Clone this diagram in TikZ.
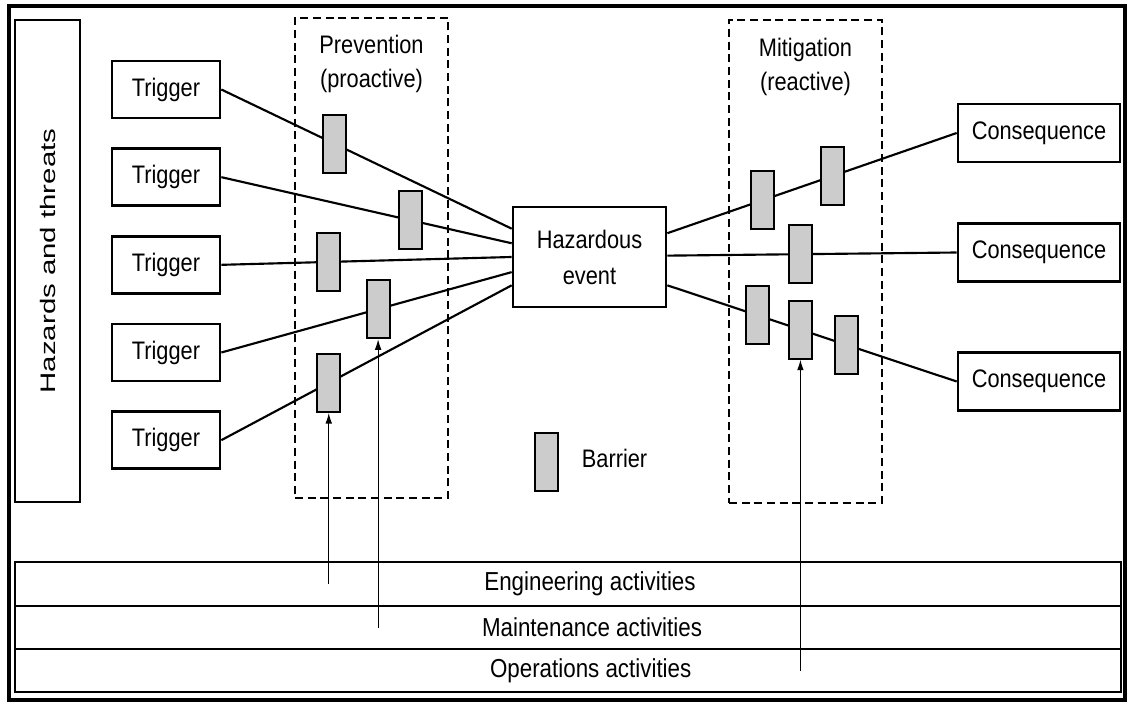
\documentclass[tikz,border=0pt]{standalone}
\usepackage{fontspec}
\setmainfont[FakeStretch=0.86]{Liberation Sans}
\newfontfamily\widefont[FakeStretch=1.4]{Liberation Sans}
\usepackage{tikz}
\usetikzlibrary{positioning, arrows.meta}
\tikzset{
  box/.style={draw, line width=2pt, inner sep=0pt, align=center,
              font=\fontsize{19}{27}\selectfont},
  trig/.style={box, minimum width=81pt, minimum height=42.75pt},
  cons/.style={box, minimum width=121.5pt, minimum height=43.5pt},
  event/.style={box, minimum width=114.75pt, minimum height=75pt},
  barrier/.style={draw, line width=1.5pt, fill=gray!40, inner sep=0pt,
                  minimum width=17.25pt, minimum height=43.5pt},
  zone/.style={draw, line width=1.5pt, dash pattern=on 6pt off 3.5pt,
               minimum width=114.75pt, inner sep=0pt},
  band/.style={draw, line width=2pt, minimum width=829.5pt, inner sep=0pt, outer sep=0pt},
  bandtxt/.style={font=\fontsize{19.5}{24}\selectfont},
  lbl/.style={align=center, font=\fontsize{19}{26}\selectfont},
  link/.style={line width=1.6pt},
  up/.style={-{Latex[length=8pt, width=5pt]}, line width=0.9pt},
}

\begin{document}
\begin{tikzpicture}[x=0.75pt, y=-0.75pt]
  \useasboundingbox (0,0) rectangle (1128,706);
  \draw[line width=3pt] (9,6) rectangle (1125,700);

  % --- left strip ---
  \node[draw, line width=1.6pt, rotate=90, minimum width=361.5pt, minimum height=48.75pt,
        inner sep=0pt, font=\widefont\fontsize{15.75}{18}\selectfont] (hazards) at (47.5,261)
       {Hazards and threats};

  % --- zones ---
  \node[zone, minimum height=360pt] (prev) at (371.5,258) {};
  \node[zone, minimum height=362.25pt] (mit) at (805.5,261.5) {};
  \node[lbl] (prevlbl) at (371.5,64) {Prevention\\(proactive)};
  \node[lbl] (mitlbl) at (805.5,67) {Mitigation\\(reactive)};

  % --- central event ---
  \node[event] (haz) at (589.5,257) {Hazardous\\event};

  % --- triggers ---
  \node[trig] (t1) at (166,89.5) {Trigger};
  \node[trig, below=21pt of t1] (t2) {Trigger};
  \node[trig, below=21pt of t2] (t3) {Trigger};
  \node[trig, below=21pt of t3] (t4) {Trigger};
  \node[trig, below=21pt of t4] (t5) {Trigger};

  % --- consequences ---
  \node[cons] (c1) at (1039,133) {Consequence};
  \node[cons] (c2) at (1039,252.5) {Consequence};
  \node[cons] (c3) at (1039,381.5) {Consequence};

  % --- threat lines with barriers ---
  \draw[link] (t1.east) -- node[barrier, pos=0.39] (b1) {} (haz.160);
  \draw[link] (t2.east) -- node[barrier, pos=0.65] (b2) {} (haz.170);
  \draw[link] (t3.east) -- node[barrier, pos=0.37] (b3) {} (haz.180);
  \draw[link] (t4.east) -- node[barrier, pos=0.54] (b4) {} (haz.191);
  \draw[link] (t5.east) -- node[barrier, pos=0.37] (b5) {} (haz.200);

  % --- consequence lines with barriers ---
  \draw[link] (haz.17) -- node[barrier, pos=0.33] (r1) {}
                          node[barrier, pos=0.57] (r2) {} (c1.west);
  \draw[link] (haz.1) -- node[barrier, pos=0.46] (r3) {} (c2.west);
  \draw[link] (haz.340) -- node[barrier, pos=0.31] (r4) {}
                           node[barrier, pos=0.46] (r5) {}
                           node[barrier, pos=0.62] (r6) {} (c3.west);

  % --- legend ---
  \node[barrier] (legbar) at (546,462) {};
  \node[lbl, right=14pt of legbar, yshift=3pt] (legtxt) {Barrier};

  % --- activity bands ---
  \node[band, minimum height=33pt] (eng) at (568,584) {};
  \node[band, minimum height=32.25pt, below=0pt of eng] (mnt) {};
  \node[band, minimum height=32.25pt, below=0pt of mnt] (ops) {};
  \node[bandtxt] (engtxt) at ([xshift=16.5pt]eng.center) {Engineering activities};
  \node[bandtxt] (mnttxt) at ([xshift=18pt]mnt.center) {Maintenance activities};
  \node[bandtxt] (opstxt) at ([xshift=17pt]ops.center) {Operations activities};

  % --- support arrows ---
  \draw[up] (eng.center -| b5.south) -- (b5.south);
  \draw[up] (mnt.center -| b4.south) -- (b4.south);
  \draw[up] (ops.center -| r5.south) -- (r5.south);

\end{tikzpicture}
\end{document}
